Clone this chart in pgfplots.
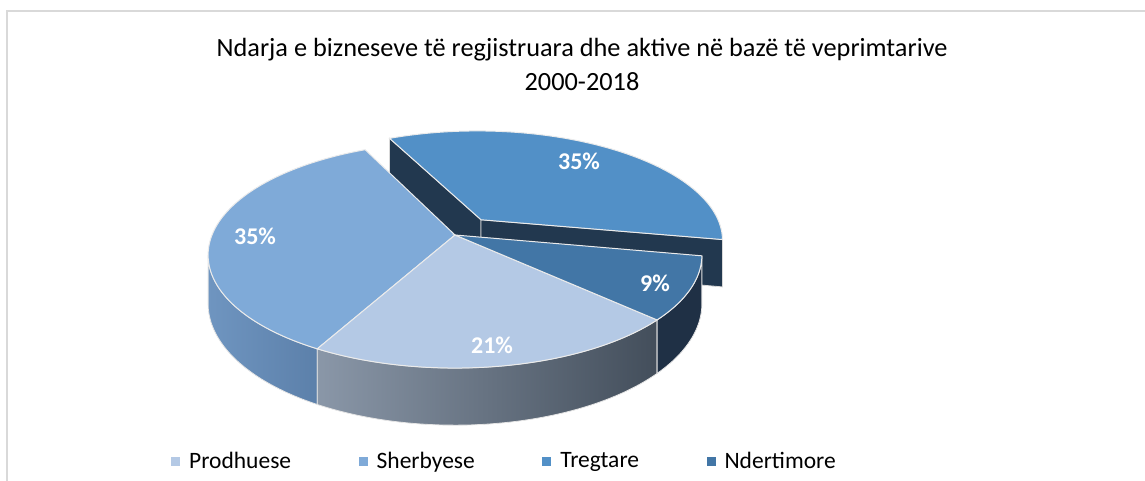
\documentclass[border=0pt]{standalone}
\usepackage{pgfplots}
\usepackage{pgfplotstable}
\pgfplotsset{compat=1.18}
\usepackage{fontspec}
\setmainfont{Carlito}

\definecolor{cPro}{HTML}{B4C9E5}
\definecolor{cSher}{HTML}{7FAAD8}
\definecolor{cTreg}{HTML}{5290C7}
\definecolor{cNd}{HTML}{4276A6}
\definecolor{wSherL}{HTML}{6F95C0}
\definecolor{wSherR}{HTML}{5C80AA}
\definecolor{wProL}{HTML}{8A97A8}
\definecolor{wProR}{HTML}{434E5B}
\definecolor{wNd}{HTML}{1F3045}
\definecolor{wTreg}{HTML}{22384F}
\definecolor{frame}{HTML}{D9D9D9}

\pgfplotstableread{
cat val
Prodhuese 21
Sherbyese 35
Tregtare 35
Ndertimore 9
}\piedata
\pgfplotstablegetelem{0}{val}\of\piedata \let\vPro\pgfplotsretval
\pgfplotstablegetelem{1}{val}\of\piedata \let\vSher\pgfplotsretval
\pgfplotstablegetelem{2}{val}\of\piedata \let\vTreg\pgfplotsretval
\pgfplotstablegetelem{3}{val}\of\piedata \let\vNd\pgfplotsretval

% slices run clockwise from the first slice angle
\pgfmathsetmacro\aPro{-43}
\pgfmathsetmacro\bPro{\aPro-3.6*\vPro}
\pgfmathsetmacro\aSher{\bPro}
\pgfmathsetmacro\bSher{\aSher-3.6*\vSher}
\pgfmathsetmacro\aTreg{\bSher}
\pgfmathsetmacro\bTreg{\aTreg-3.6*\vTreg}
\pgfmathsetmacro\aNd{\bTreg}
\pgfmathsetmacro\bNd{\aNd-3.6*\vNd}
% visible part of the side walls
\pgfmathsetmacro\bSherW{max(\bSher,-169.8)}
\pgfmathsetmacro\aNdW{min(\aNd,-370.2)}
% explosion of Tregtare
\pgfmathsetmacro\mTreg{(\aTreg+\bTreg)/2}
\pgfmathsetmacro\oU{0.18*cos(\mTreg)}
\pgfmathsetmacro\oV{0.18*sin(\mTreg)}

\newcommand\TopFace[5]{%
\addplot[forget plot,#1,domain=0:3,samples=301,variable=\t]
 ({PX((#4)+rT(\t)*cos((#2)+((#3)-(#2))*sT(\t)),(#5)+rT(\t)*sin((#2)+((#3)-(#2))*sT(\t)))},
  {PY((#4)+rT(\t)*cos((#2)+((#3)-(#2))*sT(\t)),(#5)+rT(\t)*sin((#2)+((#3)-(#2))*sT(\t)),0)}) -- cycle;
}
\newcommand\WallFace[5]{%
\addplot[forget plot,#1,domain=0:4,samples=401,variable=\t]
 ({PX((#4)+cos((#2)+((#3)-(#2))*rT(\t)),(#5)+sin((#2)+((#3)-(#2))*rT(\t)))},
  {PY((#4)+cos((#2)+((#3)-(#2))*rT(\t)),(#5)+sin((#2)+((#3)-(#2))*rT(\t)),wD(\t))}) -- cycle;
}
\newcommand\CutFace[4]{%
\addplot[forget plot,#1,domain=0:4,samples=41,variable=\t]
 ({PX((#3)+rT(\t)*cos(#2),(#4)+rT(\t)*sin(#2))},
  {PY((#3)+rT(\t)*cos(#2),(#4)+rT(\t)*sin(#2),wD(\t))}) -- cycle;
}

\begin{document}
\begin{tikzpicture}
\begin{axis}[
  name=ax,
  width=1145pt, height=481pt, scale only axis,
  xmin=0, xmax=1145, ymin=0, ymax=481, y dir=reverse,
  hide axis, clip=false,
  declare function={
    PX(\u,\v)=455+243*\u/(1+0.177*\v);
    PY(\u,\v,\d)=235+(\d*47-109.5*\v)/(1+0.177*\v);
    rT(\t)=min(\t,1)-max(0,min(\t-2,1));
    sT(\t)=max(0,min(\t-1,1));
    wD(\t)=max(0,min(\t-1,1))-max(0,min(\t-3,1));
  },
  legend columns=4,
  legend style={at={(axis cs:168,461)}, anchor=west, draw=none, fill=none,
    font=\fontsize{23.5}{23.5}\selectfont,
    /tikz/every even column/.append style={column sep=65.5pt},
    /tikz/every odd column/.append style={column sep=7pt}},
  legend image code/.code={\fill[#1, draw=none] (0pt,-4.5pt) rectangle (9pt,4.5pt);},
]
\addlegendimage{fill=cPro, draw=none}\addlegendentry{Prodhuese}
\addlegendimage{fill=cSher, draw=none}\addlegendentry{Sherbyese}
\addlegendimage{fill=cTreg, draw=none}\addlegendentry{Tregtare}
\addlegendimage{fill=cNd, draw=none}\addlegendentry{Ndertimore}

% frame
\draw[frame, line width=1.5pt] (axis cs:7,481) -- (axis cs:7,11) -- (axis cs:1145,11);

% exploded slice: cut faces and top
\CutFace{fill=wTreg, draw=white!85!black, line width=0.8pt}{\aTreg}{\oU}{\oV}
\CutFace{fill=wTreg, draw=white!85!black, line width=0.8pt}{\bTreg}{\oU}{\oV}
\TopFace{fill=cTreg, draw=white!92!black, line width=1pt}{\aTreg}{\bTreg}{\oU}{\oV}

% side walls
\WallFace{left color=wSherL, right color=wSherR, draw=white!90!black, line width=0.8pt}{\aSher}{\bSherW}{0}{0}
\WallFace{left color=wProL, right color=wProR, draw=white!90!black, line width=0.8pt}{\aPro}{\bPro}{0}{0}
\WallFace{fill=wNd, draw=white!90!black, line width=0.8pt}{\aNdW}{\bNd}{0}{0}

% top faces
\TopFace{fill=cSher, draw=white!92!black, line width=1pt}{\aSher}{\bSher}{0}{0}
\TopFace{fill=cPro, draw=white!92!black, line width=1pt}{\aPro}{\bPro}{0}{0}
\TopFace{fill=cNd, draw=white!92!black, line width=1pt}{\aNd}{\bNd}{0}{0}

% labels
\begin{scope}[every node/.style={text=white, font=\bfseries\fontsize{24}{24}\selectfont}]
\node at (axis cs:579,161) {35\%};
\node at (axis cs:255,236) {35\%};
\node at (axis cs:655,283) {9\%};
\node at (axis cs:492,345) {21\%};
\end{scope}

% title
\node[align=center, font=\fontsize{26.3}{34}\selectfont] at (axis cs:582,64)
  {Ndarja e bizneseve të regjistruara dhe aktive në bazë të veprimtarive\\2000-2018};
\end{axis}
\pgfresetboundingbox
\useasboundingbox (ax.south west) rectangle (ax.north east);
\end{tikzpicture}
\end{document}
